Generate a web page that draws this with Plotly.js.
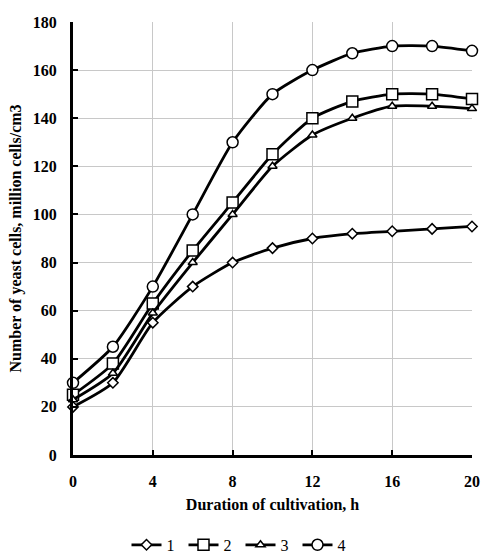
<!DOCTYPE html>
<html><head><meta charset="utf-8">
<script src="https://cdn.plot.ly/plotly-3.0.1.min.js"></script>
<style>html,body{margin:0;padding:0;background:#fff}#chart{width:481px;height:556px}</style>
</head><body><div id="chart"></div>
<script>
var hours = [0, 2, 4, 6, 8, 10, 12, 14, 16, 18, 20];
var series1 = [20, 30, 55, 70, 80, 86, 90, 92, 93, 94, 95];
var series2 = [25, 38, 63, 85, 105, 125, 140, 147, 150, 150, 148];
var series3 = [23, 34, 59, 80, 100, 120, 133, 140, 145, 145, 144];
var series4 = [30, 45, 70, 100, 130, 150, 160, 167, 170, 170, 168];
var names = ['1', '2', '3', '4'];
var symbols = ['diamond', 'square', 'triangle-up', 'circle'];
var sizes = [8, 11, 8, 11];
var allSeries = [series1, series2, series3, series4];

var traces = allSeries.map(function (s, i) {
  return {
    x: hours, y: s, name: names[i], type: 'scatter', mode: 'lines+markers',
    line: {color: '#000', width: 2.8, shape: 'spline', smoothing: 0.6},
    marker: {symbol: symbols[i], size: sizes[i], color: '#fff',
             line: {color: '#000', width: 1.5}},
    cliponaxis: false
  };
});

var fontFam = '"Liberation Serif", "Times New Roman", serif';
var layout = {
  width: 481, height: 556,
  margin: {l: 73, r: 9, t: 22, b: 101, autoexpand: false},
  paper_bgcolor: '#fff', plot_bgcolor: '#fff',
  font: {family: fontFam, color: '#000', size: 16},
  showlegend: true,
  legend: {orientation: 'h', x: 0.5, xanchor: 'center', xref: 'container',
           y: 0.02, yanchor: 'middle', yref: 'container',
           font: {family: fontFam, size: 16, color: '#000'}, entrywidth: 12, tracegroupgap: 0},
  xaxis: {
    range: [0, 20], tickvals: [0, 4, 8, 12, 16, 20],
    showgrid: true, gridcolor: '#c8c8c8', gridwidth: 1,
    showline: true, linecolor: '#000', linewidth: 3,
    ticks: 'inside', ticklen: 5, tickwidth: 2, tickcolor: '#000',
    ticklabelstandoff: 10,
    zeroline: false, tickfont: {family: fontFam, size: 16, weight: 'bold'},
    title: {text: '<b>Duration of cultivation, h</b>', font: {family: fontFam, size: 16}, standoff: 10}
  },
  yaxis: {
    range: [0, 180], tickvals: [0, 20, 40, 60, 80, 100, 120, 140, 160, 180],
    showgrid: true, gridcolor: '#c8c8c8', gridwidth: 1,
    showline: true, linecolor: '#000', linewidth: 3,
    ticks: 'inside', ticklen: 5, tickwidth: 2, tickcolor: '#000',
    ticklabelstandoff: 10,
    zeroline: false, tickfont: {family: fontFam, size: 16, weight: 'bold'},
    title: {text: '<b>Number of yeast cells, million cells/cm3</b>', font: {family: fontFam, size: 16}, standoff: 8}
  }
};
Plotly.newPlot('chart', traces, layout, {displayModeBar: false, staticPlot: true});
</script></body></html>
